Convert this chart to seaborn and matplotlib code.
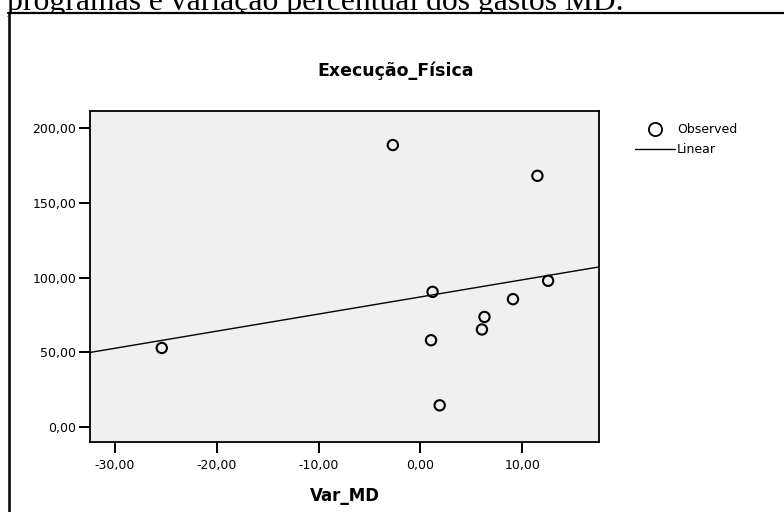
import numpy as np
import pandas as pd
import matplotlib
matplotlib.use("Agg")
import matplotlib.pyplot as plt
from matplotlib.lines import Line2D
from matplotlib.patches import Rectangle
from matplotlib.ticker import FuncFormatter
import seaborn as sns

# dados
var_md = [-25.4, -2.7, 11.5, 1.2, 12.55, 9.1, 6.3, 6.05, 1.05, 1.9]
execucao_fisica = [52.9, 188.8, 168.2, 90.5, 97.9, 85.6, 73.7, 65.3, 58.1, 14.5]
x_ticks = [-30, -20, -10, 0, 10]
y_ticks = [0, 50, 100, 150, 200]

df = pd.DataFrame({"Var_MD": var_md, "Execução_Física": execucao_fisica})

sns.set_style("white")
plt.rcParams['font.family'] = ['DejaVu Sans']
plt.rcParams['text.color'] = 'black'
plt.rcParams['axes.labelcolor'] = 'black'
plt.rcParams['axes.unicode_minus'] = False

W, H = 784, 512
fig = plt.figure(figsize=(W / 100, H / 100), dpi=100)
ax = fig.add_axes([90 / W, 70 / H, 509 / W, 331 / H])
ax.set_facecolor('#f0f0f0')
ax.set_xlim(-32.45, 17.55)
ax.set_ylim(-10.05, 211.6)

sns.regplot(data=df, x="Var_MD", y="Execução_Física", ax=ax, ci=None, truncate=False,
            marker='o', color='black',
            scatter_kws={'s': 55, 'facecolors': 'none', 'edgecolors': 'black', 'linewidths': 1.5,
                         'alpha': 1},
            line_kws={'color': 'black', 'linewidth': 1.0})

fmt = FuncFormatter(lambda v, p: f"{v:.2f}".replace('.', ','))
ax.set_xticks(x_ticks)
ax.set_yticks(y_ticks)
ax.xaxis.set_major_formatter(fmt)
ax.yaxis.set_major_formatter(fmt)
ax.tick_params(axis='both', direction='out', length=8, width=1.4, labelsize=9,
               colors='black', bottom=True, left=True)
ax.tick_params(axis='y', pad=1.8)
ax.tick_params(axis='x', pad=4)
for s in ax.spines.values():
    s.set_color('black')
    s.set_linewidth(1.3)

ax.set_xlabel("Var_MD", fontsize=12, fontweight='bold', labelpad=11, color='black')
ax.set_ylabel("")

# título centrado na largura do gráfico
fig.text(396 / W, (H - 75.7) / H, "Execução_Física", fontsize=12.5, fontweight='bold',
         ha='center', va='baseline', color='black')

# legenda
handles = [
    Line2D([], [], linestyle='none', marker='o', markersize=9.5, markerfacecolor='none',
           markeredgecolor='black', markeredgewidth=1.3),
    Line2D([], [], color='black', linewidth=1.0),
]
fig.legend(handles, ["Observed", "Linear"], loc='upper left',
           bbox_to_anchor=(635 / W, (H - 123) / H), frameon=False,
           fontsize=9, handlelength=3.2, handletextpad=0.15, labelspacing=0.58,
           borderpad=0, borderaxespad=0)

# texto do documento cortado no topo, moldura do gráfico por cima
fig.text(7 / W, (H - 10) / H, "programas e variação percentual dos gastos MD.",
         family=['Liberation Serif', 'DejaVu Serif'], fontsize=22.8, va='baseline', ha='left',
         zorder=-3)
fig.add_artist(Rectangle((8 / W, 0), 1, (H - 13) / H, transform=fig.transFigure,
                         facecolor='white', edgecolor='none', zorder=-2))
fig.add_artist(Line2D([8.7 / W, 8.7 / W], [0, (H - 13) / H], color='black',
                      linewidth=1.8, transform=fig.transFigure))
fig.add_artist(Line2D([7.8 / W, 1], [(H - 13) / H, (H - 13) / H], color='black',
                      linewidth=1.6, transform=fig.transFigure))

fig.savefig("out.png", dpi=100)
